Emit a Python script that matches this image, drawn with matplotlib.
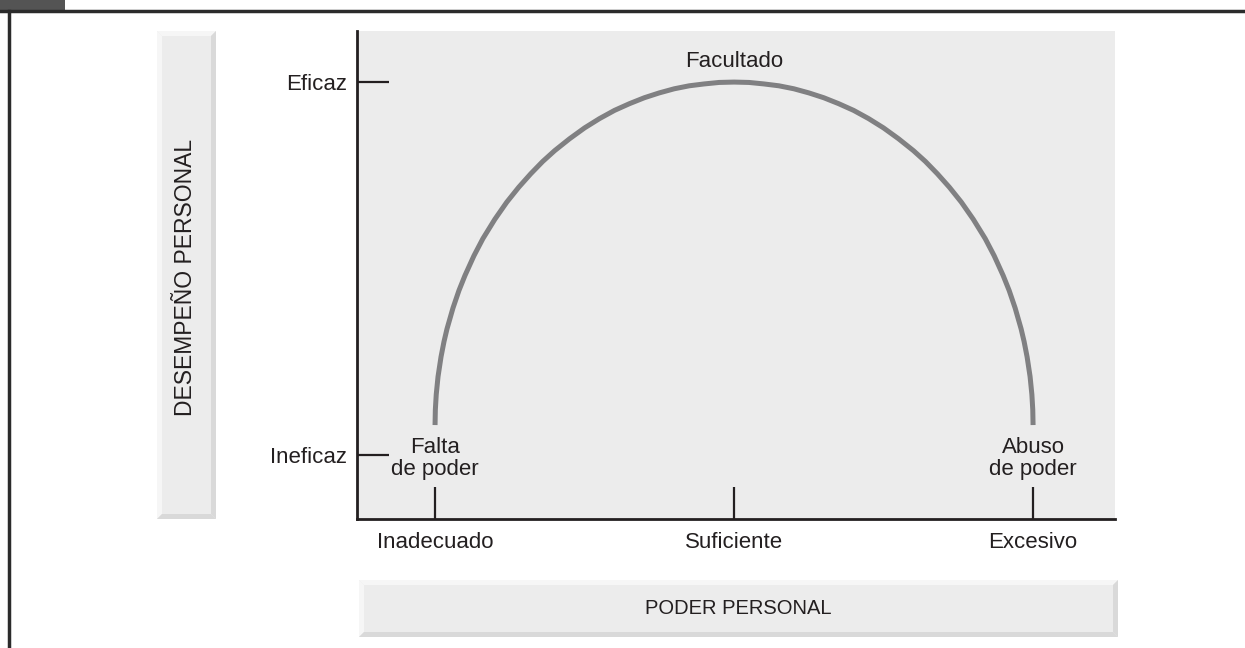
import matplotlib.pyplot as plt
from matplotlib.patches import Rectangle, Polygon

plt.rcParams['font.family'] = ['Liberation Sans', 'DejaVu Sans']

# Data: conceptual curve, power (x) vs performance (y)
x_ticks = [0, 1, 2]
x_labels = ["Inadecuado", "Suficiente", "Excesivo"]
y_ticks = [0, 1]
y_labels = ["Ineficaz", "Eficaz"]

curve_x = [0.0, 0.001, 0.004, 0.01, 0.02, 0.03, 0.04, 0.06, 0.08, 0.10, 0.13, 0.16,
           0.20, 0.24, 0.28, 0.32, 0.36, 0.40, 0.45, 0.50, 0.55, 0.60, 0.65, 0.70,
           0.75, 0.80, 0.85, 0.90, 0.95, 1.0,
           1.05, 1.10, 1.15, 1.20, 1.25, 1.30, 1.35, 1.40, 1.45, 1.50, 1.55, 1.60,
           1.64, 1.68, 1.72, 1.76, 1.80, 1.84, 1.87, 1.90, 1.92, 1.94, 1.96, 1.97,
           1.98, 1.99, 1.996, 1.999, 2.0]
curve_y = [0.08, 0.121, 0.162, 0.210, 0.263, 0.304, 0.338, 0.394, 0.441, 0.481, 0.534, 0.580,
           0.632, 0.678, 0.718, 0.754, 0.787, 0.816, 0.848, 0.877, 0.902, 0.924, 0.942, 0.958,
           0.971, 0.982, 0.990, 0.995, 0.999, 1.0,
           0.999, 0.995, 0.990, 0.982, 0.971, 0.958, 0.942, 0.924, 0.902, 0.877, 0.848, 0.816,
           0.787, 0.754, 0.718, 0.678, 0.632, 0.580, 0.534, 0.481, 0.441, 0.394, 0.338, 0.304,
           0.263, 0.210, 0.162, 0.121, 0.08]

point_labels = ["Falta\nde poder", "Facultado", "Abuso\nde poder"]

W, H = 1245, 648
fig = plt.figure(figsize=(W / 100, H / 100), dpi=100)
fig.patch.set_facecolor('white')

def fx(px):
    return px / W

def fy(py):
    return 1 - py / H

# frame pieces from the page
fig.add_artist(Rectangle((0, fy(11)), fx(65), 11 / H, transform=fig.transFigure,
                         facecolor='#545454', edgecolor='none'))
fig.add_artist(plt.Line2D([0, 1], [fy(11), fy(11)], transform=fig.transFigure,
                          color='#2b2b2b', lw=2.5))
fig.add_artist(plt.Line2D([fx(9), fx(9)], [0, fy(11)], transform=fig.transFigure,
                          color='#2b2b2b', lw=2.5))

def bevel_box(x0, y0, x1, y1, b=5):
    # x0,y0 top-left; x1,y1 bottom-right in pixels
    face = '#ececec'
    light = '#f6f6f6'
    dark = '#d9d9d9'
    tr = fig.transFigure
    fig.add_artist(Rectangle((fx(x0), fy(y1)), fx(x1 - x0), (y1 - y0) / H,
                             transform=tr, facecolor=face, edgecolor='none'))
    top = [(x0, y0), (x1, y0), (x1 - b, y0 + b), (x0 + b, y0 + b)]
    left = [(x0, y0), (x0 + b, y0 + b), (x0 + b, y1 - b), (x0, y1)]
    bot = [(x0, y1), (x0 + b, y1 - b), (x1 - b, y1 - b), (x1, y1)]
    right = [(x1, y0), (x1, y1), (x1 - b, y1 - b), (x1 - b, y0 + b)]
    for pts, c in [(top, light), (left, light), (bot, dark), (right, dark)]:
        fig.add_artist(Polygon([(fx(a), fy(bb)) for a, bb in pts], closed=True,
                               transform=tr, facecolor=c, edgecolor='none'))

bevel_box(157, 31, 216, 519)
bevel_box(359, 580, 1118, 637)

fig.text(fx(186), fy(277), "DESEMPEÑO PERSONAL", rotation=90, ha='center', va='center',
         fontsize=16.5, color='#231f20')
fig.text(fx(738), fy(608), "PODER PERSONAL", ha='center', va='center',
         fontsize=14.5, color='#231f20')

# main axes
ax = fig.add_axes([fx(357), fy(519), fx(1115 - 357), (519 - 31) / H])
ax.set_facecolor('#ececec')
ax.plot(curve_x, curve_y, color='#808082', lw=3.6, solid_capstyle='butt',
        solid_joinstyle='round')
ax.set_xlim(-0.261, 2.274)
ax.set_ylim(-0.172, 1.137)

ax.set_xticks(x_ticks)
ax.set_xticklabels(x_labels)
ax.set_yticks(y_ticks)
ax.set_yticklabels(y_labels)
ax.tick_params(direction='in', length=23, width=1.6, color='#231f20',
               labelsize=16, labelcolor='#231f20', pad=7)
ax.tick_params(axis='x', pad=9)

for s in ['top', 'right']:
    ax.spines[s].set_visible(False)
for s in ['left', 'bottom']:
    ax.spines[s].set_linewidth(2)
    ax.spines[s].set_color('#231f20')

ax.text(0, -0.01, point_labels[0], ha='center', va='center', fontsize=16,
        color='#231f20', linespacing=1.1)
ax.text(1, 1.054, point_labels[1], ha='center', va='center', fontsize=16,
        color='#231f20')
ax.text(2, -0.01, point_labels[2], ha='center', va='center', fontsize=16,
        color='#231f20', linespacing=1.1)

fig.savefig('out.png', dpi=100)
